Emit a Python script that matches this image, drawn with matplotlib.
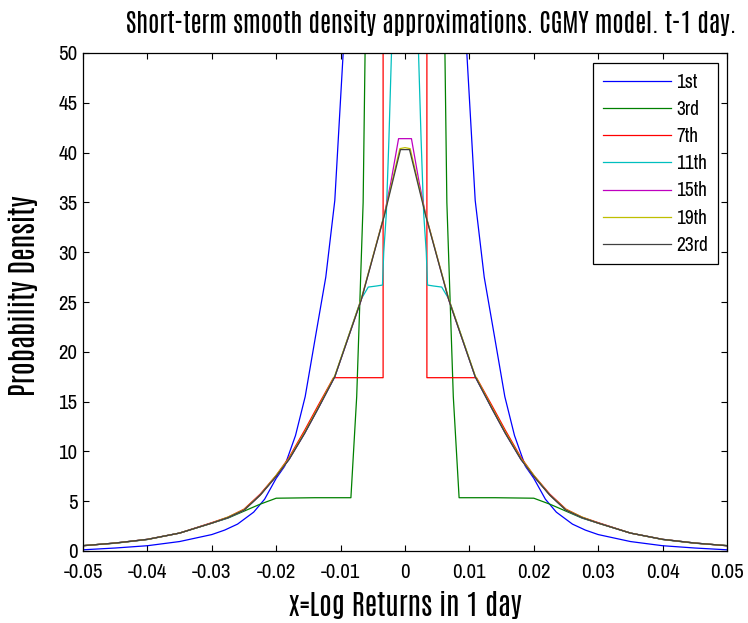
import numpy as np
import matplotlib
matplotlib.use('Agg')
import matplotlib.pyplot as plt

# Right-half readings (x >= 0); each approximation is symmetric about x = 0
x_1st = [0, 0.008, 0.0096, 0.0109, 0.0123, 0.0138, 0.0155, 0.017, 0.0187, 0.02, 0.0218,
         0.0235, 0.026, 0.028, 0.03, 0.035, 0.04, 0.045, 0.05]
y_1st = [200, 80, 50, 35.2, 27.5, 21.9, 15.5, 11.6, 8.5, 7.3, 5.2,
         3.9, 2.7, 2.1, 1.65, 0.95, 0.53, 0.3, 0.12]

x_3rd = [0, 0.0062, 0.0065, 0.0075, 0.0084, 0.014, 0.02, 0.0225, 0.025, 0.0275, 0.03,
         0.035, 0.04, 0.045, 0.05]
y_3rd = [80, 50, 35, 15.5, 5.35, 5.35, 5.3, 4.7, 4.0, 3.3, 2.8,
         1.8, 1.15, 0.78, 0.55]

x_7th = [0, 0.0034, 0.0034, 0.0111, 0.0135, 0.0156, 0.018, 0.02, 0.0225, 0.025, 0.0275,
         0.03, 0.035, 0.04, 0.045, 0.05]
y_7th = [95, 95, 17.4, 17.4, 14.6, 12.1, 9.4, 7.6, 5.7, 4.2, 3.4,
         2.85, 1.8, 1.17, 0.8, 0.53]

x_11th = [0, 0.0021, 0.0025, 0.0029, 0.0033, 0.0035, 0.0045, 0.0057, 0.0068, 0.0109,
          0.0135, 0.0156, 0.018, 0.02, 0.0225, 0.025, 0.0275, 0.03, 0.035, 0.04, 0.045, 0.05]
y_11th = [70, 50, 41.3, 33.9, 30.0, 26.7, 26.6, 26.5, 25.3, 17.5,
          14.3, 11.8, 9.2, 7.5, 5.6, 4.1, 3.35, 2.8, 1.8, 1.17, 0.8, 0.53]

x_15th = [0, 0.001, 0.0022, 0.0032, 0.0068, 0.0109, 0.0135, 0.0156, 0.018, 0.02, 0.0225,
          0.025, 0.0275, 0.03, 0.035, 0.04, 0.045, 0.05]
y_15th = [41.4, 41.4, 37.0, 33.8, 25.2, 17.5, 14.3, 11.8, 9.2, 7.5, 5.6,
          4.1, 3.35, 2.8, 1.8, 1.17, 0.8, 0.53]

x_19th = [0, 0.0008, 0.0032, 0.0068, 0.0109, 0.0135, 0.0156, 0.018, 0.02, 0.0225, 0.025,
          0.0275, 0.03, 0.035, 0.04, 0.045, 0.05]
y_19th = [40.5, 40.4, 33.8, 25.3, 17.6, 14.4, 11.9, 9.3, 7.6, 5.6, 4.15,
          3.4, 2.8, 1.8, 1.17, 0.8, 0.53]

x_23rd = [0, 0.0007, 0.0032, 0.0068, 0.0109, 0.0135, 0.0156, 0.018, 0.02, 0.0225, 0.025,
          0.0275, 0.03, 0.035, 0.04, 0.045, 0.05]
y_23rd = [40.3, 40.3, 33.7, 25.2, 17.5, 14.3, 11.8, 9.2, 7.5, 5.6, 4.1,
          3.35, 2.8, 1.8, 1.17, 0.8, 0.53]

labels = ['1st', '3rd', '7th', '11th', '15th', '19th', '23rd']
halves = [(x_1st, y_1st), (x_3rd, y_3rd), (x_7th, y_7th), (x_11th, y_11th),
          (x_15th, y_15th), (x_19th, y_19th), (x_23rd, y_23rd)]
colors = ['#0000FF', '#008000', '#FF0000', '#00BFBF', '#BF00BF', '#BFBF00', '#404040']

x_ticks = [-0.05, -0.04, -0.03, -0.02, -0.01, 0, 0.01, 0.02, 0.03, 0.04, 0.05]
x_tick_labels = ['-0.05', '-0.04', '-0.03', '-0.02', '-0.01', '0', '0.01', '0.02', '0.03', '0.04', '0.05']
y_ticks = [0, 5, 10, 15, 20, 25, 30, 35, 40, 45, 50]


def mirror(xh, yh):
    xh = np.asarray(xh, dtype=float)
    yh = np.asarray(yh, dtype=float)
    return np.concatenate([-xh[:0:-1], xh]), np.concatenate([yh[:0:-1], yh])


plt.rcParams['font.family'] = ['Archivo Narrow', 'Liberation Sans', 'DejaVu Sans']
head_font = ['Antonio', 'Oswald', 'Anton', 'DejaVu Sans']

W, H = 748, 623
fig = plt.figure(figsize=(W / 100, H / 100), dpi=100)
fig.patch.set_facecolor('white')
ax = fig.add_axes([83 / W, (H - 551) / H, (727 - 83) / W, (551 - 53) / H])

for (xh, yh), lab, c in zip(halves, labels, colors):
    xx, yy = mirror(xh, yh)
    ax.plot(xx, yy, color=c, lw=0.9, label=lab)

ax.set_xlim(-0.05, 0.05)
ax.set_ylim(0, 50)
ax.set_xticks(x_ticks)
ax.set_xticklabels(x_tick_labels)
ax.set_yticks(y_ticks)
ax.tick_params(direction='in', length=4.5, width=0.8, top=True, right=True,
               labelsize=15, colors='black')
ax.tick_params(axis='x', pad=8.5)
ax.tick_params(axis='y', pad=4)
for s in ax.spines.values():
    s.set_linewidth(0.9)
    s.set_color('black')

fig.text(431 / W, 1 - 23 / H,
         'Short-term smooth density approximations. CGMY model. t-1 day.',
         ha='center', va='center', fontsize=18.2, fontweight='bold', family=head_font)
ax.set_xlabel('x=Log Returns in 1 day', fontsize=20.5, fontweight='bold', family=head_font)
ax.set_ylabel('Probability Density', fontsize=21, fontweight='bold', family=head_font)
ax.xaxis.set_label_coords((405 - 83) / 644, (551 - 591) / 498)
ax.yaxis.set_label_coords((38 - 83) / 644, (551 - 296) / 498)

leg = ax.legend(loc='upper right', bbox_to_anchor=(718 / W, 1 - 63 / H),
                bbox_transform=fig.transFigure, borderaxespad=0, fontsize=14,
                fancybox=False, framealpha=1, edgecolor='black',
                handlelength=3.5, handletextpad=0.3, labelspacing=0.42,
                borderpad=0.5)
leg.get_frame().set_linewidth(0.9)

fig.savefig('out.png', dpi=100, facecolor='white')
